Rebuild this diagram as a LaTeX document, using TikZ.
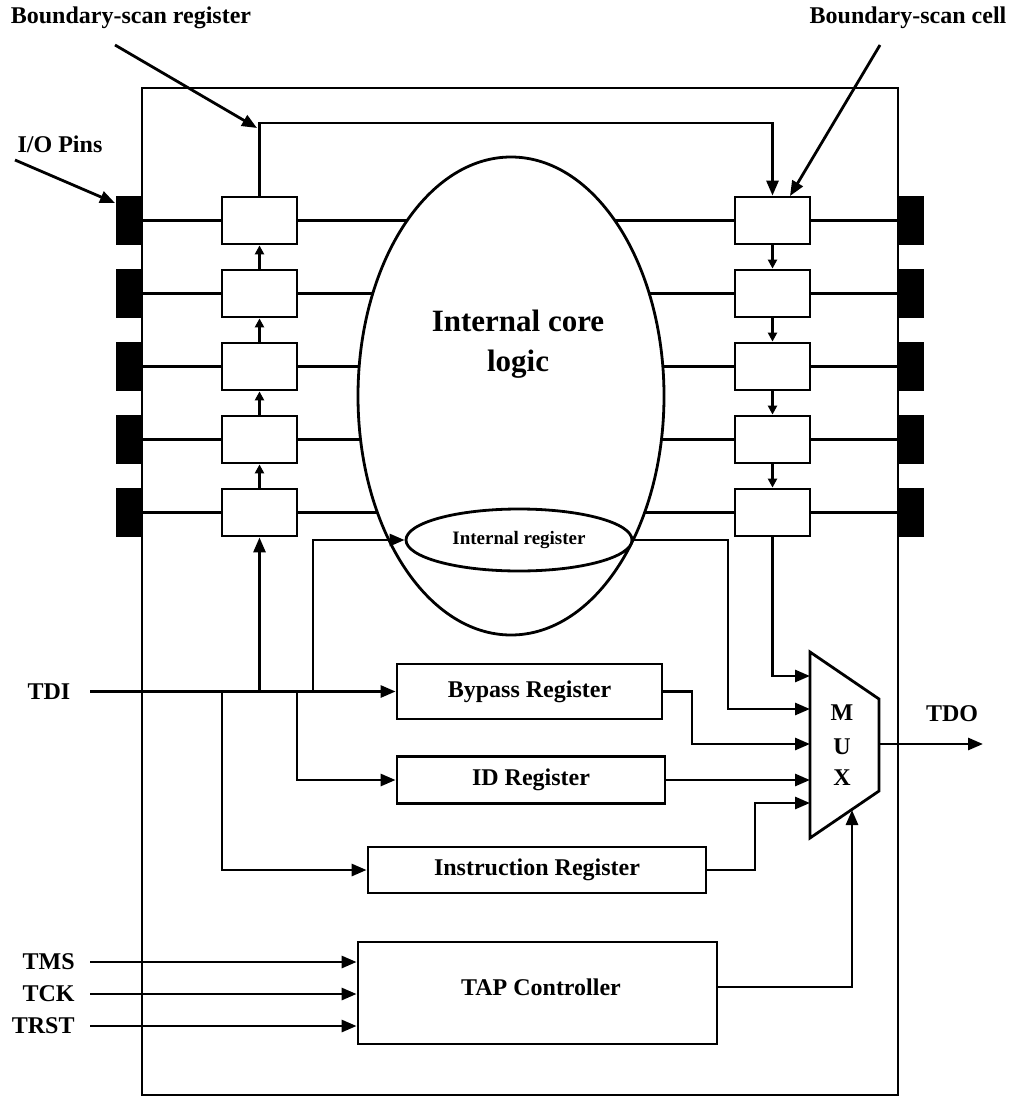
\documentclass[tikz,border=0pt]{standalone}
\usepackage{fontspec}
\setmainfont{Liberation Serif}
\usetikzlibrary{arrows.meta,shapes.geometric}
\begin{document}
\begin{tikzpicture}[x=1pt,y={(0pt,-1pt)}, line width=2.8pt, line join=miter,
  cell/.style={draw, fill=white, minimum width=75pt, minimum height=47pt, inner sep=0pt},
  iopin/.style={fill=black, minimum width=26pt, minimum height=49pt, inner sep=0pt},
  reg/.style={draw, fill=white, inner sep=0pt, font=\bfseries\fontsize{24}{28}\selectfont},
  lbl/.style={font=\bfseries\fontsize{24}{28}\selectfont, inner sep=0pt},
  arr/.style={-{Triangle[length=15pt,width=12pt]}},
  sarr/.style={-{Triangle[length=9pt,width=9pt]}}]
\useasboundingbox (0,0) rectangle (1012,1097);

% outer chip frame
\draw (142,88) rectangle (898,1095);

% pins and row wires
\foreach \i/\y in {1/220.5,2/293.5,3/366.5,4/439.5,5/512.5} {
  \node[iopin] (PL\i) at (129,\y) {};
  \node[iopin] (PR\i) at (911,\y) {};
  \draw (PL\i.east) -- (PR\i.west);
}

% internal core
\node[draw, ellipse, fill=white, minimum width=306pt, minimum height=478pt, inner sep=0pt] (core) at (511,396) {};
\node[font=\bfseries\fontsize{31}{40}\selectfont, align=center, inner sep=0pt] (coretext) at (518,344) {Internal core\\logic};

% boundary-scan cells
\foreach \i/\y in {1/220.5,2/293.5,3/366.5,4/439.5,5/512.5} {
  \node[cell] (L\i) at (259.5,\y) {};
  \node[cell] (R\i) at (772.5,\y) {};
}
\draw[sarr] (L5.north) -- (L4.south);
\draw[sarr] (L4.north) -- (L3.south);
\draw[sarr] (L3.north) -- (L2.south);
\draw[sarr] (L2.north) -- (L1.south);
\draw[sarr] (R1.south) -- (R2.north);
\draw[sarr] (R2.south) -- (R3.north);
\draw[sarr] (R3.south) -- (R4.north);
\draw[sarr] (R4.south) -- (R5.north);
\coordinate (topL) at (259.5,123);
\draw[arr] (L1.north) -- (topL) -| (R1.north);

% internal register
\node[draw, ellipse, fill=white, minimum width=226pt, minimum height=62pt, inner sep=0pt,
  font=\bfseries\fontsize{19}{22}\selectfont] (ir) at (519,540) {Internal register};

% registers
\node[reg, minimum width=265pt, minimum height=55pt] (byp) at (529.5,691.5) {Bypass Register};
\node[reg, minimum width=268pt, minimum height=47pt] (idr) at (531,780) {ID Register};
\node[reg, minimum width=338pt, minimum height=46pt] (ins) at (537,870) {Instruction Register};
\node[draw, fill=white, minimum width=359pt, minimum height=102pt, inner sep=0pt] (tap) at (537.5,993) {};
\node[lbl] (taptext) at (541,987) {TAP Controller};

% MUX
\coordinate (mtl) at (810,652);
\coordinate (mtr) at (879,699);
\coordinate (mbr) at (879,791);
\coordinate (mbl) at (810,838);
\draw[fill=white] (mtl) -- (mtr) -- (mbr) -- (mbl) -- cycle;
\node[lbl] (mM) at (842,713) {M};
\node[lbl] (mU) at (842,747) {U};
\node[lbl] (mX) at (842,778) {X};
\coordinate (m1) at (810,676);
\coordinate (m2) at (810,709);
\coordinate (m3) at (810,744);
\coordinate (m5) at (810,803);
\coordinate (msel) at (852,810);
\coordinate (mout) at (879,744);
\coordinate (tdoend) at (983,744);
\draw[arr] (mout) -- (tdoend);
\node[lbl] (tdo) at (952,714) {TDO};

% mux inputs
\draw[arr] (R5.south) |- (m1);
\draw[arr] (ir.east) -- (728,540) |- (m2);
\draw[arr] (byp.east) -- (692,691.5) |- (m3);
\draw[arr] (idr.east) -- (idr.east -| m1);
\draw[arr] (ins.east) -- (755,870) |- (m5);
\draw[arr] ([yshift=6pt]tap.east) -| (msel);

% TDI
\coordinate (tdi) at (90,691.5);
\node[lbl] (tdilbl) at (49,691.5) {TDI};
\coordinate (b1) at (222,691.5);
\coordinate (b2) at (259.5,691.5);
\coordinate (b3) at (297,691.5);
\coordinate (b4) at (313,691.5);
\draw[arr] (tdi) -- (byp.west);
\draw[arr] (b1) |- (ins.west);
\draw[arr] (b2) -- (L5.south);
\draw[arr] (b3) |- (idr.west);
\draw[arr] (b4) |- (ir.west);

% TAP inputs
\coordinate (tms) at (90,962);
\coordinate (tck) at (90,994);
\coordinate (trst) at (90,1026);
\node[lbl, anchor=east] (tmslbl) at (76,962) {TMS};
\node[lbl, anchor=east] (tcklbl) at (76,994) {TCK};
\node[lbl, anchor=east] (trstlbl) at (76,1026) {TRST};
\draw[arr] (tms) -- (tms -| tap.west);
\draw[arr] (tck) -- (tck -| tap.west);
\draw[arr] (trst) -- (trst -| tap.west);

% callouts
\node[lbl] (bsr) at (131,18) {Boundary-scan register};
\coordinate (bsrtail) at (115,45);
\coordinate (bsrtip) at (257,128);
\draw[arr] (bsrtail) -- (bsrtip);
\node[lbl] (bsc) at (908,18) {Boundary-scan cell};
\coordinate (bsctail) at (880,45);
\coordinate (bsctip) at (790,196);
\draw[arr] (bsctail) -- (bsctip);
\node[lbl] (iop) at (60,144) {I/O Pins};
\coordinate (ioptail) at (15,160);
\coordinate (ioptip) at (115,203);
\draw[arr] (ioptail) -- (ioptip);
\end{tikzpicture}
\end{document}
